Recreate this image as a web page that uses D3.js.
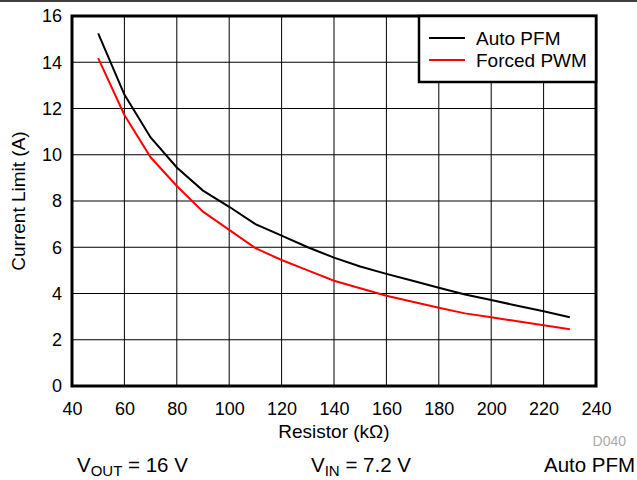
<!DOCTYPE html>
<html>
<head>
<script src="https://cdnjs.cloudflare.com/ajax/libs/d3/7.8.5/d3.min.js"></script>
<style>
body { margin: 0; background: #fff; }
svg text { font-family: "Liberation Sans", Arial, sans-serif; }
</style>
</head>
<body>
<svg id="chart" width="637" height="480"></svg>
<script>
// data
const resistor = [50, 60, 70, 80, 90, 100, 110, 120, 130, 140, 150, 160, 170, 180, 190, 200, 210, 220, 230];
const autoPFM = [15.25, 12.6, 10.75, 9.45, 8.45, 7.75, 7.0, 6.5, 6.0, 5.55, 5.17, 4.85, 4.55, 4.25, 3.96, 3.72, 3.47, 3.23, 2.97];
const forcedPWM = [14.18, 11.72, 9.89, 8.65, 7.54, 6.75, 5.96, 5.45, 5.0, 4.55, 4.23, 3.9, 3.64, 3.38, 3.14, 2.97, 2.8, 2.63, 2.45];
const xTicks = [40, 60, 80, 100, 120, 140, 160, 180, 200, 220, 240];
const yTicks = [0, 2, 4, 6, 8, 10, 12, 14, 16];
const seriesNames = ['Auto PFM', 'Forced PWM'];
const seriesColors = ['#000', '#ff0000'];

const plotL = 72, plotR = 596, plotT = 16, plotB = 386;

const svg = d3.select('#chart');

const x = d3.scaleLinear().domain([40, 240]).range([plotL, plotR]);
const y = d3.scaleLinear().domain([0, 16]).range([plotB, plotT]);

// header rule
svg.append('line')
  .attr('x1', 0).attr('x2', 637).attr('y1', 1).attr('y2', 1)
  .attr('stroke', '#000').attr('stroke-width', 1.5);

// grid
const grid = svg.append('g');
grid.selectAll('line.v').data(xTicks.slice(1, -1)).enter().append('line')
  .attr('x1', d => x(d)).attr('x2', d => x(d))
  .attr('y1', plotT).attr('y2', plotB)
  .attr('stroke', '#000').attr('stroke-width', 1);
grid.selectAll('line.h').data(yTicks.slice(1, -1)).enter().append('line')
  .attr('y1', d => y(d)).attr('y2', d => y(d))
  .attr('x1', plotL).attr('x2', plotR)
  .attr('stroke', '#000').attr('stroke-width', 1);

// axes (labels only)
const xAxis = svg.append('g')
  .attr('transform', `translate(0,${plotB})`)
  .call(d3.axisBottom(x).tickValues(xTicks).tickSize(0).tickPadding(16));
const yAxis = svg.append('g')
  .attr('transform', `translate(${plotL},0)`)
  .call(d3.axisLeft(y).tickValues(yTicks).tickSize(0).tickPadding(10));
[xAxis, yAxis].forEach(a => {
  a.select('.domain').remove();
  a.selectAll('text')
    .attr('font-family', '"Liberation Sans", Arial, sans-serif')
    .attr('font-size', 18).attr('fill', '#000');
});

// series
const line = d3.line()
  .x((d, i) => x(resistor[i]))
  .y(d => y(d));
[autoPFM, forcedPWM].forEach((s, k) => {
  svg.append('path')
    .datum(s)
    .attr('d', line)
    .attr('fill', 'none')
    .attr('stroke', seriesColors[k])
    .attr('stroke-width', 2);
});

// frame
svg.append('rect')
  .attr('x', plotL).attr('y', plotT)
  .attr('width', plotR - plotL).attr('height', plotB - plotT)
  .attr('fill', 'none').attr('stroke', '#000').attr('stroke-width', 3);

// legend
const lg = svg.append('g');
lg.append('rect')
  .attr('x', 419).attr('y', plotT)
  .attr('width', plotR - 419).attr('height', 66)
  .attr('fill', '#fff').attr('stroke', '#000').attr('stroke-width', 2.5);
seriesNames.forEach((name, i) => {
  const yy = 38 + i * 22;
  lg.append('line')
    .attr('x1', 429).attr('x2', 465).attr('y1', yy).attr('y2', yy)
    .attr('stroke', seriesColors[i]).attr('stroke-width', 2);
  lg.append('text')
    .attr('x', 476).attr('y', yy + 7)
    .attr('font-size', 19).text(name);
});

// axis titles
svg.append('text')
  .attr('x', (plotL + plotR) / 2).attr('y', 438)
  .attr('text-anchor', 'middle').attr('font-size', 19)
  .text('Resistor (kΩ)');
svg.append('text')
  .attr('transform', `translate(25,${(plotT + plotB) / 2}) rotate(-90)`)
  .attr('text-anchor', 'middle').attr('font-size', 19)
  .text('Current Limit (A)');

svg.append('text')
  .attr('x', 626).attr('y', 446)
  .attr('text-anchor', 'end').attr('font-size', 14).attr('fill', '#aaa')
  .text('D040');

// conditions footer
const foot = svg.append('g').attr('font-size', 20.5);
const vout = foot.append('text').attr('x', 77).attr('y', 472);
vout.append('tspan').text('V');
vout.append('tspan').attr('font-size', 15).attr('dy', 4).text('OUT');
vout.append('tspan').attr('dy', -4).text(' = 16 V');
const vin = foot.append('text').attr('x', 311).attr('y', 472);
vin.append('tspan').text('V');
vin.append('tspan').attr('font-size', 15).attr('dy', 4).text('IN');
vin.append('tspan').attr('dy', -4).text(' = 7.2 V');
foot.append('text').attr('x', 544).attr('y', 472).text('Auto PFM');
</script>
</body>
</html>
